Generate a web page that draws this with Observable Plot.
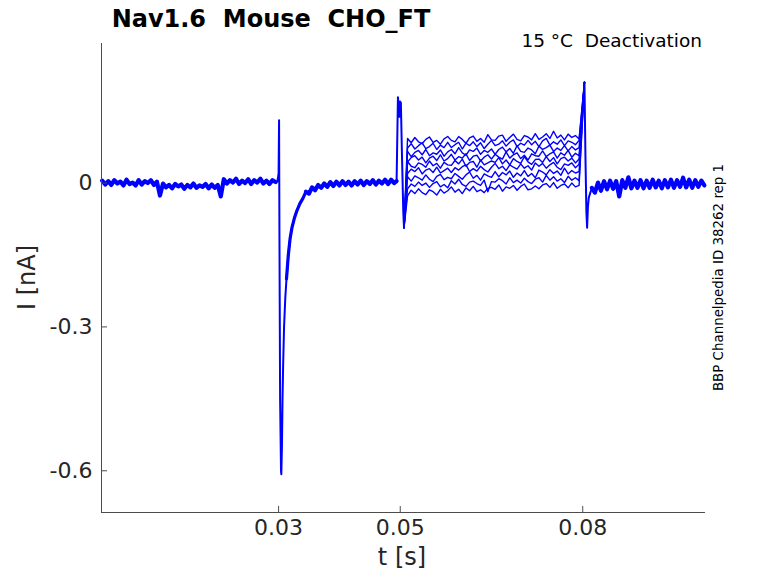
<!DOCTYPE html>
<html>
<head>
<meta charset="utf-8">
<script src="https://cdn.jsdelivr.net/npm/d3@7"></script>
<script src="https://cdn.jsdelivr.net/npm/@observablehq/plot@0.6"></script>
<style>
  html, body { margin: 0; padding: 0; background: #fff; }
  svg text.lbl { white-space: pre; font-family: "DejaVu Sans", sans-serif; }
</style>
</head>
<body>
<div id="chart"></div>
<script>
// ---- Axis settings / labels ----
const xDomain = [0.00089, 0.10018];
const yDomain = [-0.687, 0.291];
const xTicks = [0.03, 0.05, 0.08];
const xTickLabels = ["0.03", "0.05", "0.08"];
const yTicks = [0, -0.3, -0.6];
const yTickLabels = ["0", "-0.3", "-0.6"];
const titleText = "Nav1.6  Mouse  CHO_FT";
const cornerText = "15 °C  Deactivation";
const sideText = "BBP Channelpedia ID 38262 rep 1";
const xLabel = "t [s]";
const yLabel = "I [nA]";

// ---- Shared (overlapping) parts of all sweeps ----
const tPre = [0.0010,0.0015,0.0020,0.0025,0.0030,0.0035,0.0040,0.0045,0.0050,0.0055,0.0060,0.0065,0.0070,0.0075,0.0080,0.0085,0.0090,0.0095,0.0100,0.0105,
  0.0110,0.0115,0.0120,0.0125,0.0130,0.0135,0.0140,0.0145,0.0150,0.0155,0.0160,0.0165,0.0170,0.0175,0.0180,0.0185,0.0190,0.0195,0.0200,
  0.0205,
  0.0210,0.0215,0.0220,0.0225,0.0230,0.0235,0.0240,0.0245,0.0250,0.0255,0.0260,0.0265,0.0270,0.0275,0.0280,0.0285,0.0290,0.0295];
const vPre = [0.005,-0.003,0.004,-0.004,0.006,-0.001,0.003,-0.005,0.007,-0.002,0.001,-0.005,0.006,-0.003,0.004,0.000,0.006,-0.004,0.003,-0.026,
  -0.001,-0.009,-0.004,-0.011,-0.002,-0.007,-0.003,-0.012,-0.004,-0.009,-0.001,-0.010,-0.005,-0.008,-0.002,-0.011,-0.003,-0.010,-0.004,
  -0.028,
  0.008,-0.001,0.006,0.001,0.009,-0.002,0.005,0.000,0.008,-0.002,0.006,0.001,0.009,-0.001,0.005,-0.002,0.006,0.002];

// activation transient at 0.03 s
const tAct = [0.0298,0.0300,0.03008,0.03014,0.03025,0.03040,0.03045,0.03055,0.03065,0.03075,0.0309,0.0311,0.0313,0.0316,0.0319,0.0322,0.0326,0.0330,0.0335,0.0340];
const vAct = [0.003,0.020,0.131,-0.100,-0.450,-0.600,-0.607,-0.550,-0.450,-0.380,-0.300,-0.240,-0.200,-0.150,-0.115,-0.093,-0.073,-0.058,-0.043,-0.032];

// recovery to baseline
const tRec = [0.0345,0.0350,0.0355,0.0360,0.0365,0.0370,0.0375,0.0380,0.0385,0.0390,0.0395,0.0400,0.0405,0.0410,0.0415,0.0420,0.0425,0.0430,0.0435,0.0440,0.0445,0.0450,0.0455,0.0460,0.0465,0.0470,0.0475,0.0480,0.0485,0.0490];
const vRec = [-0.018,-0.022,-0.009,-0.015,-0.004,-0.010,-0.001,-0.008,0.002,-0.006,0.003,-0.005,0.004,-0.004,0.003,-0.005,0.004,-0.003,0.005,-0.004,0.004,-0.002,0.006,-0.003,0.005,-0.001,0.007,-0.002,0.007,0.000];

// transient at the 0.05 s step
const tStep = [0.0494,0.04962,0.04975,0.04985,0.04998,0.05010,0.05030,0.05050,0.05062];
const vStep = [0.004,0.179,0.160,0.138,0.170,0.168,0.050,-0.060,-0.093];

// ---- Individual sweeps during the deactivation step ----
const tSteady = [0.0512,0.0518,0.0524,0.0530,0.0536,0.0542,0.0548,0.0554,0.0560,0.0566,0.0572,0.0578,0.0584,0.0590,0.0596,0.0602,0.0608,0.0614,0.0620,0.0626,0.0632,0.0638,0.0644,0.0650,
  0.0656,0.0662,0.0668,0.0674,0.0680,0.0686,0.0692,0.0698,0.0704,0.0710,0.0716,0.0722,0.0728,0.0734,0.0740,0.0746,0.0752,0.0758,0.0764,0.0770,0.0776,0.0782,0.0788,0.0794];
const sweep1 = [0.093,0.084,0.095,0.086,0.082,0.091,0.096,0.085,0.089,0.081,0.092,0.097, 0.089,0.086,0.097,0.091,0.083,0.094,0.098,0.087,0.093,0.085,0.101,0.090,
  0.089,0.098,0.100,0.087,0.095,0.102,0.091,0.088,0.099,0.096,0.090,0.103, 0.091,0.096,0.103,0.093,0.108,0.094,0.100,0.090,0.102,0.095,0.099,0.092];
const sweep2 = [0.073,0.082,0.071,0.078,0.084,0.072,0.076,0.083,0.070,0.079,0.074,0.085, 0.074,0.080,0.085,0.071,0.083,0.078,0.086,0.076,0.084,0.072,0.081,0.089,
  0.078,0.081,0.088,0.077,0.085,0.090,0.076,0.083,0.079,0.089,0.080,0.087, 0.076,0.088,0.093,0.079,0.086,0.081,0.090,0.078,0.088,0.085,0.080,0.089];
const sweep3 = [0.066,0.055,0.064,0.068,0.059,0.070,0.057,0.063,0.060,0.069,0.056,0.065, 0.070,0.061,0.074,0.063,0.058,0.069,0.066,0.073,0.060,0.068,0.064,0.071,
  0.060,0.070,0.075,0.065,0.072,0.062,0.078,0.066,0.064,0.073,0.069,0.061, 0.077,0.070,0.074,0.079,0.066,0.073,0.068,0.078,0.067,0.076,0.069,0.074];
const sweep4 = [0.044,0.053,0.057,0.048,0.054,0.042,0.052,0.056,0.047,0.059,0.046,0.051, 0.060,0.048,0.055,0.052,0.061,0.047,0.056,0.058,0.046,0.054,0.059,0.050,
  0.060,0.054,0.050,0.065,0.052,0.059,0.063,0.051,0.058,0.048,0.061,0.057, 0.056,0.067,0.055,0.061,0.065,0.052,0.063,0.058,0.068,0.054,0.062,0.057];
const sweep5 = [0.045,0.035,0.032,0.042,0.039,0.033,0.046,0.036,0.041,0.031,0.043,0.038, 0.037,0.047,0.040,0.050,0.035,0.043,0.045,0.033,0.048,0.038,0.042,0.046,
  0.043,0.053,0.040,0.048,0.038,0.051,0.045,0.041,0.055,0.044,0.039,0.049, 0.050,0.043,0.055,0.045,0.053,0.040,0.051,0.054,0.046,0.052,0.042,0.050];
const sweep6 = [0.020,0.029,0.024,0.032,0.019,0.027,0.030,0.022,0.033,0.021,0.026,0.031, 0.022,0.032,0.027,0.034,0.038,0.024,0.030,0.025,0.035,0.028,0.023,0.033,
  0.041,0.030,0.035,0.026,0.038,0.033,0.029,0.040,0.031,0.036,0.027,0.042, 0.035,0.041,0.031,0.038,0.043,0.033,0.028,0.040,0.037,0.042,0.032,0.039];
const sweep7 = [0.013,0.004,0.015,0.011,0.006,0.017,0.008,0.003,0.014,0.018,0.007,0.012, 0.009,0.020,0.014,0.008,0.017,0.023,0.010,0.016,0.006,0.019,0.015,0.012,
  0.024,0.013,0.022,0.017,0.025,0.012,0.021,0.015,0.026,0.014,0.020,0.011, 0.027,0.023,0.017,0.028,0.020,0.025,0.016,0.031,0.019,0.026,0.021,0.024];
const sweep8 = [-0.012,-0.002,-0.007,0.002,-0.005,0.000,-0.009,-0.001,0.003,-0.008,-0.003,-0.010, 0.005,-0.002,0.008,-0.003,-0.007,0.002,0.004,-0.001,-0.005,0.006,-0.018,0.003,
  0.002,0.009,0.005,-0.002,0.011,0.001,0.006,0.000,0.010,0.003,-0.001,0.008, 0.011,0.002,0.016,0.006,0.013,0.004,0.009,0.001,0.014,0.006,0.011,0.005];
const sweep9 = [-0.027,-0.015,-0.022,-0.012,-0.020,-0.024,-0.014,-0.018,-0.025,-0.013,-0.021,-0.016, -0.008,-0.019,-0.013,-0.022,-0.010,-0.016,-0.007,-0.018,-0.014,-0.020,-0.011,-0.009,
  -0.013,-0.004,-0.017,-0.008,-0.011,-0.005,-0.015,-0.007,-0.002,-0.014,-0.012,-0.006, -0.012,-0.004,-0.001,-0.009,0.001,-0.011,-0.005,-0.002,-0.010,0.000,-0.008,-0.005];
const sweeps = [sweep1, sweep2, sweep3, sweep4, sweep5, sweep6, sweep7, sweep8, sweep9];

// transient at the end of the step (0.08 s) and tail
const tOff = [0.08028,0.08045,0.08060,0.08072,0.08085,0.0810,0.0812];
const vOff = [0.210,0.050,-0.060,-0.093,-0.050,-0.030,-0.022];
const tTail = [0.0815,0.0820,0.0825,0.0830,0.0835,0.0840,0.0845,0.0850,0.0855,0.0860,0.0865,0.0870,0.0875,0.0880,0.0885,0.0890,0.0895,0.0900,0.0905,0.0910,0.0915,0.0920,0.0925,0.0930,0.0935,0.0940,0.0945,0.0950,0.0955,0.0960,0.0965,0.0970,0.0975,0.0980,0.0985,0.0990,0.0995,0.1000];
const vTail = [-0.010,-0.020,0.001,-0.016,0.004,-0.013,0.005,-0.012,0.004,-0.028,0.006,-0.010,0.012,-0.011,0.005,-0.010,0.006,-0.011,0.005,-0.010,0.007,-0.009,0.005,-0.011,0.006,-0.009,0.007,-0.010,0.006,-0.008,0.011,-0.009,0.007,-0.010,0.006,-0.008,0.005,-0.005];

// ---- Build tables ----
const zip = (ts, vs, id) => ts.map((t, i) => ({t, v: vs[i], id}));
const pt = (ts, vs, i, id) => ({t: ts[(i + ts.length) % ts.length], v: vs[(i + vs.length) % vs.length], id});
// thick, noisy baseline bands (many overlapping sweeps)
const bands = [
  ...zip(tPre, vPre, "pre"),
  ...zip(tRec, vRec, "rec"), pt(tStep, vStep, 0, "rec"),
  ...zip(tTail, vTail, "tail")
];
// recovery after the activation peak (overlapping sweeps)
const recovery = [
  ...zip(tAct.slice(12), vAct.slice(12), "r"), pt(tRec, vRec, 0, "r")
];
// thin transients
const transients = [
  pt(tPre, vPre, -1, "act"), ...zip(tAct, vAct, "act"),
  pt(tRec, vRec, -1, "step"), ...zip(tStep, vStep, "step"),
  ...zip(tOff, vOff, "off"), pt(tTail, vTail, 0, "off")
];
const sweepRows = sweeps.flatMap((s, k) => [
  pt(tStep, vStep, -1, "s" + k),
  ...zip(tSteady, s, "s" + k),
  pt(tOff, vOff, 0, "s" + k)
]);

const axisColor = "#4d4d4d";
const textColor = "#262626";
const blue = "#0000ff";

const plot = Plot.plot({
  width: 778,
  height: 583,
  marginLeft: 101,
  marginRight: 73,
  marginTop: 43,
  marginBottom: 71,
  style: {fontFamily: "DejaVu Sans, sans-serif", background: "#fff", color: textColor},
  x: {domain: xDomain, axis: null},
  y: {domain: yDomain, axis: null},
  marks: [
    Plot.line(bands, {x: "t", y: "v", z: "id", stroke: blue, strokeWidth: 4.2, strokeLinejoin: "round"}),
    Plot.line(recovery, {x: "t", y: "v", z: "id", stroke: blue, strokeWidth: 3.2, strokeLinejoin: "round", strokeLinecap: "round"}),
    Plot.line(transients, {x: "t", y: "v", z: "id", stroke: blue, strokeWidth: 2, strokeLinejoin: "round"}),
    Plot.line(sweepRows, {x: "t", y: "v", z: "id", stroke: blue, strokeWidth: 1.4, strokeLinejoin: "round"}),
    Plot.ruleX([xDomain[0]], {stroke: axisColor, strokeWidth: 1}),
    Plot.ruleY([yDomain[0]], {stroke: axisColor, strokeWidth: 1}),
    Plot.axisX({ticks: xTicks, tickSize: -6, tickFormat: () => "", stroke: axisColor, label: null}),
    Plot.axisY({ticks: yTicks, tickSize: -6, tickFormat: () => "", stroke: axisColor, label: null}),
    Plot.text(xTicks, {x: (d) => d, text: (d, i) => xTickLabels[i], frameAnchor: "bottom", dy: 22,
      fontSize: 22, fill: textColor}),
    Plot.text(yTicks, {y: (d) => d, text: (d, i) => yTickLabels[i], frameAnchor: "left", dx: -9,
      textAnchor: "end", fontSize: 22, fill: textColor})
  ]
});

document.getElementById("chart").appendChild(plot);

const svg = d3.select(plot);
const ys = plot.scale("y");
const yMid = (ys.range[0] + ys.range[1]) / 2;

svg.append("text").attr("class", "lbl")
  .attr("x", 271).attr("y", 27).attr("text-anchor", "middle")
  .attr("font-size", 24).attr("font-weight", "bold").attr("fill", "#000")
  .text(titleText);
svg.append("text").attr("class", "lbl")
  .attr("x", 702).attr("y", 47).attr("text-anchor", "end")
  .attr("font-size", 18.5).attr("fill", "#000")
  .text(cornerText);
svg.append("text").attr("class", "lbl")
  .attr("transform", `translate(723,${yMid}) rotate(-90)`).attr("text-anchor", "middle")
  .attr("font-size", 13.4).attr("fill", "#000")
  .text(sideText);
svg.append("text").attr("class", "lbl")
  .attr("x", 402).attr("y", 565).attr("text-anchor", "middle")
  .attr("font-size", 24).attr("fill", textColor)
  .text(xLabel);
svg.append("text").attr("class", "lbl")
  .attr("transform", `translate(35,${yMid}) rotate(-90)`).attr("text-anchor", "middle")
  .attr("font-size", 24).attr("fill", textColor)
  .text(yLabel);
</script>
</body>
</html>
